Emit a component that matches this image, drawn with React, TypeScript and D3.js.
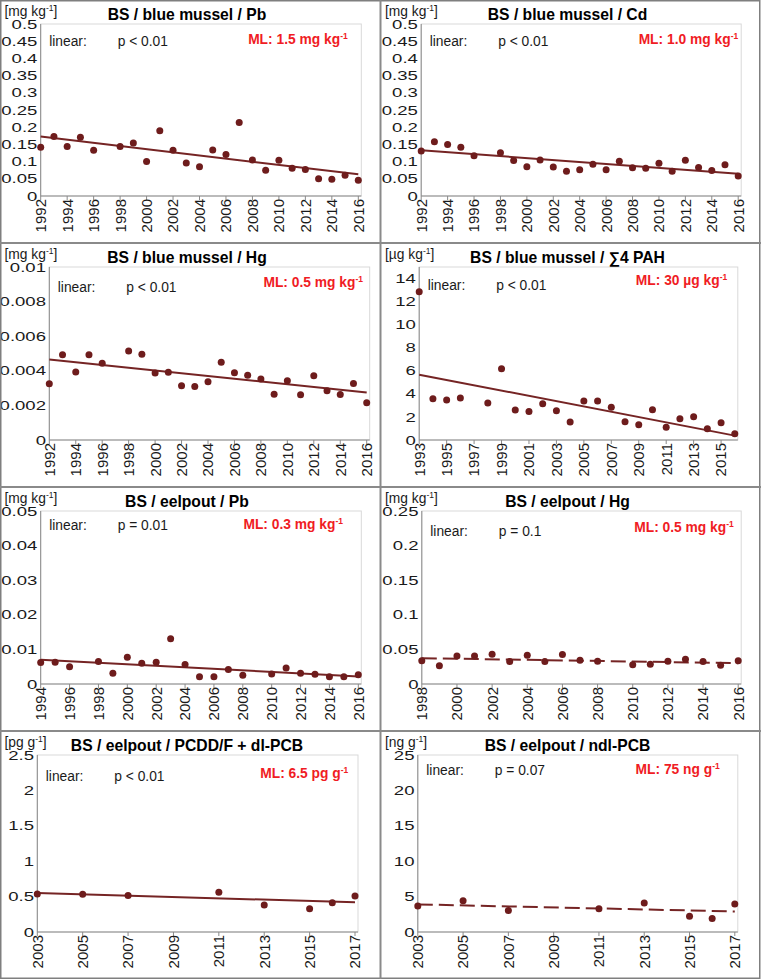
import React from "react";
import * as d3 from "d3";

const FONT = "'Liberation Sans', Arial, Helvetica, sans-serif";
const DOT = "#6e1c1c";
const LINE = "#752424";
const RED = "#f01c24";

// ---------- data ----------
const musselYears = [1992, 1993, 1994, 1995, 1996, 1998, 1999, 2000, 2001, 2002, 2003, 2004, 2005, 2006, 2007, 2008, 2009, 2010, 2011, 2012, 2013, 2014, 2015, 2016];
const musselPb = [0.142, 0.173, 0.144, 0.171, 0.133, 0.144, 0.154, 0.1, 0.19, 0.133, 0.096, 0.085, 0.134, 0.121, 0.214, 0.105, 0.075, 0.104, 0.081, 0.077, 0.05, 0.049, 0.06, 0.046];
const musselCd = [0.131, 0.158, 0.15, 0.142, 0.117, 0.126, 0.103, 0.085, 0.105, 0.084, 0.072, 0.076, 0.092, 0.076, 0.101, 0.082, 0.081, 0.095, 0.072, 0.104, 0.083, 0.074, 0.091, 0.058];
const musselHg = [0.00325, 0.00493, 0.00393, 0.00493, 0.00443, 0.00515, 0.00495, 0.00387, 0.00391, 0.00313, 0.00309, 0.00337, 0.00449, 0.00389, 0.00375, 0.00352, 0.00265, 0.00342, 0.00261, 0.00371, 0.00284, 0.00263, 0.00327, 0.00215];
const pahYears = [1993, 1994, 1995, 1996, 1998, 1999, 2000, 2001, 2002, 2003, 2004, 2005, 2006, 2007, 2008, 2009, 2010, 2011, 2012, 2013, 2014, 2015, 2016];
const pahValues = [12.85, 3.58, 3.46, 3.64, 3.2, 6.18, 2.6, 2.48, 3.15, 2.54, 1.56, 3.38, 3.38, 2.83, 1.59, 1.33, 2.63, 1.1, 1.85, 2.02, 0.98, 1.5, 0.55];
const eelpoutPbYears = [1994, 1995, 1996, 1998, 1999, 2000, 2001, 2002, 2003, 2004, 2005, 2006, 2007, 2008, 2010, 2011, 2012, 2013, 2014, 2015, 2016];
const eelpoutPb = [0.0062, 0.0063, 0.005, 0.0065, 0.0031, 0.0077, 0.006, 0.0063, 0.0131, 0.0056, 0.0021, 0.0021, 0.0042, 0.0025, 0.0029, 0.0046, 0.0031, 0.0028, 0.0021, 0.0021, 0.0027];
const eelpoutHgYears = [1998, 1999, 2000, 2001, 2002, 2003, 2004, 2005, 2006, 2007, 2008, 2010, 2011, 2012, 2013, 2014, 2015, 2016];
const eelpoutHg = [0.0335, 0.0263, 0.0406, 0.0406, 0.043, 0.0325, 0.0416, 0.0325, 0.0425, 0.0344, 0.033, 0.0277, 0.0287, 0.033, 0.0358, 0.0325, 0.0272, 0.0335];
const pcbYears = [2003, 2005, 2007, 2011, 2013, 2015, 2016, 2017];
const dioxinValues = [0.538, 0.533, 0.514, 0.562, 0.381, 0.329, 0.414, 0.51];
const ndlPcbValues = [3.67, 4.43, 3.05, 3.29, 4.1, 2.24, 1.9, 3.95];

// trend line values at first and last year
const trendPb = [0.173, 0.063];
const trendCd = [0.133, 0.065];
const trendHg = [0.00466, 0.00275];
const trendPah = [5.66, 0.38];
const trendEelPb = [0.007, 0.0022];
const trendEelHg = [0.0373, 0.0301];
const trendDioxin = [0.552, 0.419];
const trendNdl = [3.9, 2.9];

// tick labels
const ticks9216 = [1992, 1994, 1996, 1998, 2000, 2002, 2004, 2006, 2008, 2010, 2012, 2014, 2016];
const ticks9315 = [1993, 1995, 1997, 1999, 2001, 2003, 2005, 2007, 2009, 2011, 2013, 2015];
const ticks9416 = [1994, 1996, 1998, 2000, 2002, 2004, 2006, 2008, 2010, 2012, 2014, 2016];
const ticks9816 = [1998, 2000, 2002, 2004, 2006, 2008, 2010, 2012, 2014, 2016];
const ticks0317 = [2003, 2005, 2007, 2009, 2011, 2013, 2015, 2017];
const yTicks05 = [0, 0.05, 0.1, 0.15, 0.2, 0.25, 0.3, 0.35, 0.4, 0.45, 0.5];
const yTicks001 = [0, 0.002, 0.004, 0.006, 0.008, 0.01];
const yTicks14 = [0, 2, 4, 6, 8, 10, 12, 14];
const yTicks005 = [0, 0.01, 0.02, 0.03, 0.04, 0.05];
const yTicks025 = [0, 0.05, 0.1, 0.15, 0.2, 0.25];
const yTicks25 = [0, 0.5, 1, 1.5, 2, 2.5];
const yTicks25b = [0, 5, 10, 15, 20, 25];

const titles = [
  "BS / blue mussel / Pb",
  "BS / blue mussel / Cd",
  "BS / blue mussel / Hg",
  "BS / blue mussel / \u22114 PAH",
  "BS / eelpout / Pb",
  "BS / eelpout / Hg",
  "BS / eelpout / PCDD/F + dl-PCB",
  "BS / eelpout / ndl-PCB",
];
const units = ["[mg kg", "[mg kg", "[mg kg", "[\u00b5g kg", "[mg kg", "[mg kg", "[pg g", "[ng g"];
const pTexts = ["p < 0.01", "p < 0.01", "p < 0.01", "p < 0.01", "p = 0.01", "p = 0.1", "p < 0.01", "p = 0.07"];
const mlTexts = ["ML: 1.5 mg kg", "ML: 1.0 mg kg", "ML: 0.5 mg kg", "ML: 30 \u00b5g kg", "ML: 0.3 mg kg", "ML: 0.5 mg kg", "ML: 6.5 pg g", "ML: 75 ng g"];

const panels = [
  { years: musselYears, values: musselPb, trend: trendPb, xDomain: [1992, 2016], xTicks: ticks9216, yMax: 0.5, yTicks: yTicks05, dashed: false },
  { years: musselYears, values: musselCd, trend: trendCd, xDomain: [1992, 2016], xTicks: ticks9216, yMax: 0.5, yTicks: yTicks05, dashed: false },
  { years: musselYears, values: musselHg, trend: trendHg, xDomain: [1992, 2016], xTicks: ticks9216, yMax: 0.01, yTicks: yTicks001, dashed: false },
  { years: pahYears, values: pahValues, trend: trendPah, xDomain: [1993, 2016], xTicks: ticks9315, yMax: 15, yTicks: yTicks14, dashed: false },
  { years: eelpoutPbYears, values: eelpoutPb, trend: trendEelPb, xDomain: [1994, 2016], xTicks: ticks9416, yMax: 0.05, yTicks: yTicks005, dashed: false },
  { years: eelpoutHgYears, values: eelpoutHg, trend: trendEelHg, xDomain: [1998, 2016], xTicks: ticks9816, yMax: 0.25, yTicks: yTicks025, dashed: true },
  { years: pcbYears, values: dioxinValues, trend: trendDioxin, xDomain: [2003, 2017], xTicks: ticks0317, yMax: 2.5, yTicks: yTicks25, dashed: false },
  { years: pcbYears, values: ndlPcbValues, trend: trendNdl, xDomain: [2003, 2017], xTicks: ticks0317, yMax: 25, yTicks: yTicks25b, dashed: true },
];

// ---------- layout ----------
const W = 761;
const H = 979;
const rowTops = [0, 243, 487, 731, 979];
const colLefts = [0, 380.5, 760];
const plotLefts = [40.7, 40.7, 49.3, 38.7, 40.7, 41.3, 37.3, 37.3];
const plotRights = [358.3, 357.7, 366.7, 354.3, 358.3, 357.7, 355, 354.3];
const mlRights = [347.7, 357.7, 363, 346.7, 343, 353.3, 348.3, 339.3];
const linearDy = [22, 22, 24.7, 23, 19, 25, 25.7, 20];
const mlDy = [20.3, 20.3, 19.7, 18, 18, 20.7, 23.3, 19];

const fmt = (v: number) => String(+v.toFixed(4));

function Panel({ i }: { i: number }) {
  const p = panels[i];
  const col = i % 2;
  const row = Math.floor(i / 2);
  const cx = colLefts[col];
  const cy = rowTops[row];
  const cellBottom = rowTops[row + 1];
  const left = cx + plotLefts[i];
  const right = cx + plotRights[i];
  const top = cy + 24;
  const bottom = cellBottom - 47;

  const x = d3.scaleLinear().domain(p.xDomain).range([left, right]);
  const y = d3.scaleLinear().domain([0, p.yMax]).range([bottom, top]);
  const line = d3
    .line<[number, number]>()
    .x((d) => x(d[0]))
    .y((d) => y(d[1]));
  const firstYear = p.years[0];
  const lastYear = p.years[p.years.length - 1];
  const trendPts: [number, number][] = [
    [firstYear, p.trend[0]],
    [lastYear, p.trend[1]],
  ];

  return (
    <g>
      {/* plot area */}
      <rect x={left} y={top} width={right - left + 3} height={bottom - top} fill="none" stroke="#d9d9d9" strokeWidth={1} />
      <line x1={left} x2={right + 3} y1={bottom} y2={bottom} stroke="#8a8a8a" strokeWidth={1} />
      <line x1={left} x2={left} y1={top} y2={bottom} stroke="#8a8a8a" strokeWidth={1} />

      {/* y ticks */}
      {p.yTicks.map((t) => (
        <text
          key={"y" + t}
          transform={`translate(${left - 3.3},${y(t)}) scale(1.45,1)`}
          textAnchor="end"
          dy="0.36em"
          fontSize={12.8}
          fill="#1a1a1a"
        >
          {fmt(t)}
        </text>
      ))}

      {/* x ticks */}
      {p.xTicks.map((t) => (
        <g key={"x" + t}>
          <line x1={x(t)} x2={x(t)} y1={bottom} y2={bottom + 4} stroke="#8a8a8a" strokeWidth={1} />
          <text
            transform={`translate(${x(t)},${bottom + 3}) rotate(-90)`}
            textAnchor="end"
            dy="0.36em"
            fontSize={15}
            fill="#1a1a1a"
          >
            {t}
          </text>
        </g>
      ))}

      {/* trend line */}
      <path
        d={line(trendPts) || ""}
        fill="none"
        stroke={LINE}
        strokeWidth={2}
        strokeDasharray={p.dashed ? "15,6" : undefined}
      />

      {/* points */}
      {p.years.map((yr, k) => (
        <circle key={"c" + yr} cx={x(yr)} cy={y(p.values[k])} r={3.5} fill={DOT} />
      ))}

      {/* texts */}
      <text x={cx + 187} y={cy + 19.5} textAnchor="middle" fontSize={15.7} fontWeight="bold" fill="#000">
        {titles[i]}
      </text>
      <text x={cx + 4.5} y={cy + 16} fontSize={13.8} fill="#1a1a1a">
        {units[i]}
        <tspan dy={-5} fontSize={8.5}>-1</tspan>
        <tspan dy={5}>]</tspan>
      </text>
      <text x={left + 8.5} y={top + linearDy[i]} fontSize={13.8} fill="#1a1a1a">
        linear:
      </text>
      <text x={left + 77} y={top + linearDy[i]} fontSize={13.8} fill="#1a1a1a">
        {pTexts[i]}
      </text>
      <text x={cx + mlRights[i]} y={top + mlDy[i]} textAnchor="end" fontSize={13.8} fontWeight="bold" fill={RED}>
        {mlTexts[i]}
        <tspan dy={-5} fontSize={8.5}>-1</tspan>
      </text>
    </g>
  );
}

export default function App() {
  return (
    <svg
      width={W}
      height={H}
      viewBox={`0 0 ${W} ${H}`}
      style={{ position: "absolute", left: 0, top: 0, background: "#fff" }}
      fontFamily={FONT}
    >
      <rect x={0} y={0} width={W} height={H} fill="#fff" />
      {panels.map((_, i) => (
        <Panel key={i} i={i} />
      ))}
      {/* cell borders */}
      <rect x={0.75} y={0.75} width={759} height={977.5} fill="none" stroke="#7f7f7f" strokeWidth={1.5} />
      <line x1={colLefts[1]} x2={colLefts[1]} y1={0} y2={H} stroke="#8a8a8a" strokeWidth={2} />
      {rowTops.slice(1, 4).map((ry) => (
        <line key={ry} x1={0} x2={W} y1={ry} y2={ry} stroke="#8a8a8a" strokeWidth={2} />
      ))}
    </svg>
  );
}
